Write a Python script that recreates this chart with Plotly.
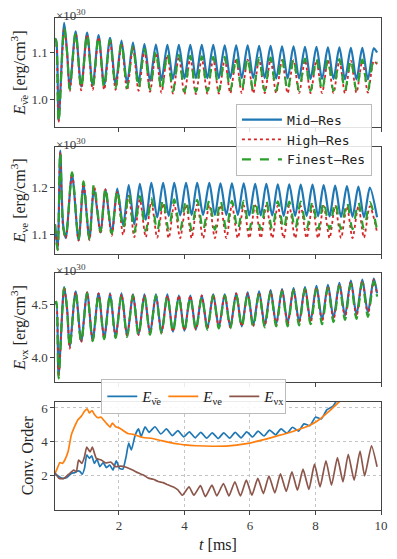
import plotly.graph_objects as go
from plotly.subplots import make_subplots

# ---- energy density, anti-electron neutrino (x1e30 erg/cm^3), extrema
t_osc = [0.05, 0.09, 0.16, 0.33, 0.42, 0.50, 0.68, 0.85, 1.03, 1.20,
         1.38, 1.55, 1.73, 1.90, 2.08, 2.25, 2.43, 2.60, 2.78, 2.95,
         3.13, 3.30, 3.48, 3.65, 3.83, 4.00, 4.18, 4.35, 4.53, 4.70,
         4.88, 5.05, 5.23, 5.40, 5.58, 5.75, 5.93, 6.10, 6.28, 6.45,
         6.63, 6.80, 6.98, 7.15, 7.33, 7.50, 7.68, 7.85, 8.03, 8.20,
         8.38, 8.55, 8.73, 8.90, 9.08, 9.25, 9.43, 9.60, 9.78, 9.88]

nubar_mid = [1.130, 1.125, 0.955, 1.163, 1.100, 1.025, 1.145, 1.028, 1.142, 1.030,
             1.137, 1.031, 1.131, 1.033, 1.125, 1.035, 1.121, 1.037, 1.118, 1.040,
             1.117, 1.042, 1.116, 1.044, 1.116, 1.045, 1.116, 1.046, 1.116, 1.046,
             1.116, 1.046, 1.115, 1.046, 1.115, 1.046, 1.115, 1.046, 1.114, 1.046,
             1.114, 1.045, 1.113, 1.045, 1.113, 1.045, 1.112, 1.044, 1.112, 1.044,
             1.111, 1.044, 1.111, 1.043, 1.110, 1.043, 1.110, 1.043, 1.109, 1.100]
nubar_high = [1.130, 1.122, 0.953, 1.150, 1.098, 1.018, 1.141, 1.020, 1.138, 1.021,
              1.132, 1.021, 1.125, 1.021, 1.118, 1.020, 1.111, 1.019, 1.105, 1.017,
              1.099, 1.015, 1.095, 1.013, 1.091, 1.012, 1.089, 1.012, 1.088, 1.013,
              1.087, 1.013, 1.086, 1.014, 1.086, 1.014, 1.085, 1.014, 1.085, 1.014,
              1.085, 1.014, 1.084, 1.014, 1.084, 1.014, 1.084, 1.014, 1.083, 1.014,
              1.083, 1.014, 1.083, 1.014, 1.083, 1.015, 1.082, 1.015, 1.082, 1.075]
nubar_fine = [1.130, 1.122, 0.952, 1.152, 1.099, 1.022, 1.143, 1.024, 1.140, 1.025,
              1.134, 1.025, 1.127, 1.025, 1.121, 1.025, 1.114, 1.024, 1.108, 1.022,
              1.103, 1.020, 1.099, 1.018, 1.095, 1.017, 1.093, 1.017, 1.092, 1.018,
              1.091, 1.018, 1.091, 1.019, 1.090, 1.019, 1.090, 1.019, 1.089, 1.019,
              1.089, 1.019, 1.088, 1.019, 1.088, 1.019, 1.087, 1.019, 1.087, 1.019,
              1.086, 1.019, 1.086, 1.019, 1.086, 1.020, 1.085, 1.020, 1.086, 1.078]

# ---- electron neutrino
t_nue = [0.05, 0.13, 0.21, 0.30, 0.38, 0.57, 0.77, 0.92, 1.10, 1.24,
         1.44, 1.59, 1.78, 1.95, 2.13, 2.30, 2.47, 2.64, 2.82, 2.99,
         3.17, 3.35, 3.52, 3.69, 3.87, 4.05, 4.22, 4.39, 4.57, 4.76,
         4.93, 5.10, 5.28, 5.45, 5.63, 5.81, 5.98, 6.16, 6.33, 6.50,
         6.68, 6.85, 7.03, 7.20, 7.38, 7.55, 7.73, 7.91, 8.08, 8.25,
         8.43, 8.60, 8.78, 8.96, 9.13, 9.31, 9.48, 9.66, 9.88]

nue_mid = [1.122, 1.070, 1.278, 1.120, 1.093, 1.228, 1.088, 1.205, 1.092, 1.197,
           1.105, 1.196, 1.103, 1.198, 1.120, 1.205, 1.122, 1.208, 1.132, 1.210,
           1.137, 1.210, 1.140, 1.210, 1.141, 1.210, 1.142, 1.210, 1.142, 1.210,
           1.142, 1.209, 1.142, 1.209, 1.142, 1.209, 1.141, 1.208, 1.141, 1.208,
           1.141, 1.207, 1.140, 1.207, 1.140, 1.206, 1.140, 1.206, 1.139, 1.205,
           1.139, 1.204, 1.138, 1.203, 1.138, 1.202, 1.137, 1.200, 1.137]
nue_high = [1.122, 1.068, 1.275, 1.113, 1.093, 1.230, 1.088, 1.210, 1.088, 1.204,
            1.102, 1.196, 1.098, 1.190, 1.100, 1.183, 1.095, 1.175, 1.095, 1.170,
            1.094, 1.166, 1.093, 1.165, 1.093, 1.164, 1.093, 1.164, 1.093, 1.163,
            1.093, 1.163, 1.093, 1.163, 1.093, 1.162, 1.093, 1.162, 1.093, 1.162,
            1.093, 1.162, 1.093, 1.161, 1.093, 1.161, 1.093, 1.161, 1.093, 1.161,
            1.093, 1.161, 1.093, 1.160, 1.093, 1.160, 1.094, 1.160, 1.105]
nue_fine = [1.122, 1.068, 1.275, 1.115, 1.095, 1.232, 1.090, 1.213, 1.090, 1.207,
            1.107, 1.200, 1.103, 1.195, 1.113, 1.188, 1.105, 1.182, 1.108, 1.178,
            1.108, 1.176, 1.109, 1.175, 1.110, 1.174, 1.110, 1.174, 1.110, 1.173,
            1.111, 1.173, 1.111, 1.172, 1.111, 1.172, 1.111, 1.171, 1.111, 1.171,
            1.111, 1.171, 1.112, 1.170, 1.112, 1.170, 1.112, 1.170, 1.112, 1.170,
            1.112, 1.169, 1.112, 1.169, 1.112, 1.169, 1.112, 1.169, 1.110]

# ---- heavy-lepton neutrino (same time grid as nubar)
nux_mid = [4.50, 4.52, 3.83, 4.66, 4.45, 4.10, 4.62, 4.15, 4.61, 4.16,
           4.60, 4.18, 4.60, 4.19, 4.60, 4.20, 4.59, 4.21, 4.59, 4.22,
           4.59, 4.23, 4.59, 4.24, 4.58, 4.25, 4.58, 4.26, 4.58, 4.27,
           4.59, 4.28, 4.59, 4.28, 4.60, 4.29, 4.61, 4.30, 4.62, 4.30,
           4.63, 4.31, 4.64, 4.32, 4.65, 4.33, 4.66, 4.34, 4.67, 4.35,
           4.68, 4.37, 4.70, 4.39, 4.72, 4.40, 4.73, 4.42, 4.74, 4.60]
nux_high = [4.50, 4.52, 3.82, 4.66, 4.45, 4.08, 4.61, 4.14, 4.61, 4.16,
            4.60, 4.18, 4.59, 4.19, 4.59, 4.20, 4.59, 4.21, 4.58, 4.22,
            4.58, 4.23, 4.58, 4.24, 4.58, 4.25, 4.58, 4.26, 4.58, 4.27,
            4.59, 4.28, 4.59, 4.28, 4.60, 4.29, 4.60, 4.29, 4.61, 4.29,
            4.62, 4.30, 4.63, 4.31, 4.64, 4.32, 4.65, 4.32, 4.66, 4.33,
            4.67, 4.35, 4.69, 4.37, 4.71, 4.38, 4.72, 4.40, 4.73, 4.58]
nux_fine = [4.50, 4.52, 3.80, 4.65, 4.45, 4.09, 4.61, 4.14, 4.60, 4.15,
            4.59, 4.17, 4.59, 4.18, 4.59, 4.19, 4.58, 4.20, 4.58, 4.21,
            4.58, 4.22, 4.58, 4.23, 4.57, 4.24, 4.57, 4.25, 4.57, 4.26,
            4.58, 4.27, 4.58, 4.27, 4.59, 4.28, 4.60, 4.28, 4.60, 4.28,
            4.61, 4.29, 4.62, 4.29, 4.63, 4.30, 4.64, 4.31, 4.64, 4.31,
            4.65, 4.33, 4.67, 4.35, 4.69, 4.36, 4.70, 4.38, 4.71, 4.57]

# ---- convergence order
t_ord_nubar = [0.05, 0.15, 0.25, 0.40, 0.55, 0.65, 0.75, 0.82, 0.88, 0.95,
               1.02, 1.10, 1.17, 1.25, 1.33, 1.42, 1.52, 1.62, 1.72, 1.82,
               1.92, 2.02, 2.12, 2.22, 2.30, 2.38, 2.50, 2.60, 2.68, 2.80,
               2.92, 3.10, 3.28, 3.45, 3.63, 3.80, 3.98, 4.15, 4.33, 4.50,
               4.68, 4.85, 5.03, 5.20, 5.38, 5.55, 5.73, 5.90, 6.08, 6.25,
               6.43, 6.60, 6.78, 6.95, 7.13, 7.30, 7.48, 7.65, 7.83, 8.00,
               8.18, 8.35, 8.53, 8.70, 8.85]
ord_nubar = [2.05, 1.95, 1.82, 1.85, 2.10, 2.15, 2.25, 2.20, 2.05, 2.40,
             3.20, 3.00, 3.15, 2.70, 2.95, 2.50, 2.75, 2.45, 2.60, 2.30,
             2.85, 2.40, 2.35, 3.10, 3.90, 3.50, 4.40, 4.75, 4.30, 4.88,
             4.55, 4.88, 4.45, 4.75, 4.35, 4.65, 4.28, 4.58, 4.22, 4.55,
             4.20, 4.52, 4.18, 4.52, 4.20, 4.55, 4.22, 4.58, 4.27, 4.62,
             4.33, 4.68, 4.40, 4.75, 4.50, 4.85, 4.62, 5.05, 4.95, 5.45,
             5.35, 5.90, 6.10, 6.60, 7.00]

t_ord_nue = [0.05, 0.12, 0.20, 0.28, 0.35, 0.45, 0.55, 0.65, 0.75, 0.85,
             0.95, 1.03, 1.10, 1.18, 1.26, 1.36, 1.46, 1.56, 1.65, 1.73,
             1.80, 1.90, 2.00, 2.15, 2.27, 2.44, 2.60, 2.74, 3.03, 3.30,
             3.53, 3.87, 4.02, 4.36, 4.85, 5.35, 5.84, 6.33, 6.82, 7.31,
             7.81, 8.10, 8.40, 8.74, 8.90]
ord_nue = [2.10, 2.40, 2.75, 2.70, 2.90, 3.40, 4.40, 4.90, 5.30, 5.50,
           5.80, 5.95, 5.70, 5.85, 5.60, 5.42, 5.45, 5.22, 5.02, 4.85,
           5.10, 4.88, 4.82, 4.63, 4.48, 4.43, 4.32, 4.24, 4.18, 4.05,
           3.95, 3.84, 3.80, 3.75, 3.72, 3.74, 3.86, 4.07, 4.33, 4.60,
           4.95, 5.28, 5.78, 6.40, 6.70]

t_ord_nux = [0.05, 0.18, 0.32, 0.47, 0.62, 0.70, 0.77, 0.87, 0.95, 1.02,
             1.12, 1.19, 1.31, 1.46, 1.60, 1.75, 1.90, 2.05, 2.20, 2.40,
             2.60, 2.75, 2.90, 3.05, 3.20, 3.35, 3.50, 3.65, 3.80, 3.94,
             4.14, 4.29, 4.49, 4.64, 4.84, 4.99, 5.19, 5.36, 5.54, 5.71,
             5.89, 6.06, 6.24, 6.41, 6.58, 6.76, 6.93, 7.11, 7.28, 7.45,
             7.62, 7.80, 7.97, 8.14, 8.32, 8.49, 8.67, 8.84, 9.00, 9.18,
             9.36, 9.50, 9.71, 9.88]
ord_nux = [2.14, 1.80, 1.80, 2.05, 2.30, 2.20, 2.90, 2.70, 3.10, 3.67,
           3.38, 3.67, 3.00, 2.90, 2.72, 2.78, 2.50, 2.53, 2.48, 2.32,
           2.12, 2.00, 1.82, 1.75, 1.62, 1.55, 1.42, 1.30, 1.12, 0.80,
           1.30, 0.80, 1.37, 0.72, 1.40, 0.76, 1.50, 0.76, 1.60, 0.76,
           1.70, 0.80, 1.80, 0.90, 1.94, 0.94, 2.07, 1.03, 2.20, 1.10,
           2.35, 1.15, 2.65, 1.30, 2.85, 1.40, 3.04, 1.60, 3.24, 1.70,
           3.43, 1.95, 3.75, 2.50]

res_names = ["Mid—Res", "High—Res", "Finest—Res"]
ord_names = ["<i>E</i><sub>ν̄e</sub>", "<i>E</i><sub>νe</sub>", "<i>E</i><sub>νx</sub>"]
ylabels = ["<i>E</i><sub>ν̄e</sub> [erg/cm<sup>3</sup>]",
           "<i>E</i><sub>νe</sub> [erg/cm<sup>3</sup>]",
           "<i>E</i><sub>νx</sub> [erg/cm<sup>3</sup>]",
           "Conv. Order"]

BLUE, ORANGE, GREEN, RED, BROWN = "#1f77b4", "#ff7f0e", "#2ca02c", "#d62728", "#8c564b"
SERIF = "Liberation Serif"

fig = make_subplots(rows=4, cols=1, shared_xaxes=True)

panels = [(t_osc, [nubar_mid, nubar_high, nubar_fine]),
          (t_nue, [nue_mid, nue_high, nue_fine]),
          (t_osc, [nux_mid, nux_high, nux_fine])]
styles = [(BLUE, "solid", 2.2), (RED, "dot", 1.8), (GREEN, "dash", 2.2)]

for row, (tt, series) in enumerate(panels, start=1):
    for name, ys, (col, dash, w) in zip(res_names, series, styles):
        fig.add_trace(go.Scatter(x=tt, y=ys, mode="lines", name=name,
                                 line=dict(color=col, dash=dash, width=w, shape="spline", smoothing=0.8),
                                 showlegend=(row == 1), legend="legend"),
                      row=row, col=1)

for name, tt, ys, col in zip(ord_names, [t_ord_nubar, t_ord_nue, t_ord_nux],
                             [ord_nubar, ord_nue, ord_nux], [BLUE, ORANGE, BROWN]):
    fig.add_trace(go.Scatter(x=tt, y=ys, mode="lines", name=name,
                             line=dict(color=col, width=1.7, shape="spline", smoothing=0.5),
                             legend="legend2"), row=4, col=1)

domains = [[0.778, 1.0], [0.52, 0.738], [0.26, 0.482], [0.0, 0.22]]
yranges = [[0.942, 1.173], [1.059, 1.286], [3.766, 4.793], [-0.08, 6.37]]
yticks = [[1.0, 1.1], [1.1, 1.2], [4.0, 4.5], [2, 4, 6]]
yticktext = [["1.0", "1.1"], ["1.1", "1.2"], ["4.0", "4.5"], ["2", "4", "6"]]

axis_common = dict(showline=True, mirror=True, linecolor="#444", linewidth=1.2,
                   ticks="outside", ticklen=3.5, tickwidth=1, tickcolor="#444",
                   tickfont=dict(family=SERIF, size=13, color="#3a3a3a"), zeroline=False)

for i in range(4):
    grid = (i == 3)
    fig.update_yaxes(row=i + 1, col=1, domain=domains[i], range=yranges[i],
                     tickvals=yticks[i], ticktext=yticktext[i],
                     showgrid=grid, gridcolor="#c4c4c4", griddash="dot", gridwidth=1,
                     title=dict(text=ylabels[i], font=dict(family=SERIF, size=16, color="#222"),
                                standoff=3),
                     **axis_common)
    fig.update_xaxes(row=i + 1, col=1, range=[0.05, 10.0], tickvals=[2, 4, 6, 8, 10],
                     showticklabels=(i == 3),
                     showgrid=grid, gridcolor="#c4c4c4", griddash="dot", gridwidth=1,
                     **axis_common)

fig.update_xaxes(row=4, col=1, title=dict(text="<i>t</i> [ms]",
                                          font=dict(family=SERIF, size=16, color="#222"),
                                          standoff=6))

for top in [1.0, 0.738, 0.482]:
    fig.add_annotation(text="×10<sup>30</sup>", xref="paper", yref="paper", x=0.0, y=top,
                       xanchor="left", yanchor="bottom", showarrow=False, yshift=-6,
                       borderpad=0, font=dict(family=SERIF, size=13, color="#3a3a3a"))

# page body has an 8px margin, so the figure is 8px smaller and offset accordingly
fig.update_layout(
    width=389, height=551,
    margin=dict(l=41, r=11, t=9, b=42),
    paper_bgcolor="white", plot_bgcolor="white",
    legend=dict(x=0.555, y=0.826, xanchor="left", yanchor="top",
                bgcolor="rgba(255,255,255,0.85)", bordercolor="#bbbbbb", borderwidth=1,
                font=dict(family="DejaVu Sans Mono", size=13, color="#222"),
                itemwidth=40, tracegroupgap=0),
    legend2=dict(x=0.142, y=0.266, xanchor="left", yanchor="top", orientation="h",
                 bgcolor="rgba(255,255,255,0.9)", bordercolor="#bbbbbb", borderwidth=1,
                 font=dict(family=SERIF, size=15, color="#222"), itemwidth=30,
                 entrywidth=16, entrywidthmode="pixels"),
)

fig.write_html("out.html")
